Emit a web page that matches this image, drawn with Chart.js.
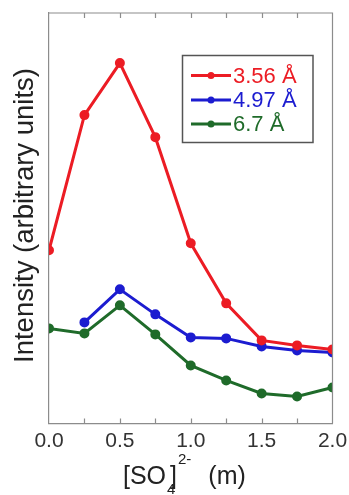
<!DOCTYPE html>
<html><head><meta charset="utf-8">
<script src="https://cdn.jsdelivr.net/npm/chart.js@4.4.1/dist/chart.umd.min.js"></script>
<style>html,body{margin:0;padding:0;background:#fff;overflow:hidden}#wrap{width:349px;height:495px;position:relative}</style>
</head><body><div id="wrap"><canvas id="c" width="349" height="495"></canvas></div>
<script>
const concentrations = [0, 0.25, 0.5, 0.75, 1, 1.25, 1.5, 1.75, 2];
const series356 = [173, 308, 360, 286, 180, 120, 83, 78, 74];
const series497 = [null, 101, 134, 109, 86, 85, 77, 73, 71];
const series67 = [95, 90, 118, 89, 58, 43, 30, 27, 36];
const seriesLabels = ['3.56 Å', '4.97 Å', '6.7 Å'];
const xTickValues = [0, 0.5, 1, 1.5, 2];
const xTickLabels = ['0.0', '0.5', '1.0', '1.5', '2.0'];
const minorTickValues = [0.25, 0.5, 0.75, 1, 1.25, 1.5, 1.75];
const yTitle = 'Intensity (arbitrary units)';

const colors = ['#ec1c24', '#1c1cd0', '#1f6b2a'];
const AXIS = '#8c8c8c';
const FONT = "'Liberation Sans', Arial, sans-serif";

function pts(arr) { return concentrations.map((x, i) => ({x: x, y: arr[i]})); }
function ds(label, arr, color) {
  return {label, data: pts(arr), borderColor: color, backgroundColor: color,
    pointBackgroundColor: color, pointBorderColor: color, borderWidth: 3,
    pointRadius: 3.5, pointHoverRadius: 3.5, tension: 0, spanGaps: false};
}

const frame = {
  id: 'frame',
  afterDraw(chart) {
    const {ctx, chartArea: a, scales: {x}} = chart;
    ctx.save();
    ctx.strokeStyle = AXIS; ctx.lineWidth = 1.2;
    ctx.beginPath();
    ctx.moveTo(a.left, a.top); ctx.lineTo(a.right, a.top); ctx.lineTo(a.right, a.bottom);
    ctx.stroke();
    minorTickValues.forEach(v => {
      const px = Math.round(x.getPixelForValue(v)) + 0.5;
      ctx.beginPath();
      ctx.moveTo(px, a.top); ctx.lineTo(px, a.top + 5);
      ctx.moveTo(px, a.bottom); ctx.lineTo(px, a.bottom - 5);
      ctx.stroke();
    });
    // legend
    const L = 182.5, T = 55.5, R = 313, B = 142.5;
    ctx.fillStyle = '#fff';
    ctx.fillRect(L, T, R - L, B - T);
    ctx.strokeStyle = '#555'; ctx.lineWidth = 1.5;
    ctx.strokeRect(L, T, R - L, B - T);
    const rows = [75.5, 100, 124];
    ctx.font = '22px ' + FONT; ctx.textBaseline = 'middle'; ctx.textAlign = 'left';
    chart.data.datasets.forEach((d, i) => {
      const y = rows[i];
      ctx.strokeStyle = d.borderColor; ctx.lineWidth = 3;
      ctx.beginPath(); ctx.moveTo(191, y); ctx.lineTo(231, y); ctx.stroke();
      ctx.fillStyle = d.borderColor;
      ctx.beginPath(); ctx.arc(211, y, 3.5, 0, Math.PI * 2); ctx.fill();
      ctx.fillText(d.label, 233, y + 1);
    });
    // y title
    ctx.fillStyle = '#222';
    ctx.font = '27.5px ' + FONT;
    ctx.save();
    ctx.translate(33, 215.5);
    ctx.rotate(-Math.PI / 2);
    ctx.textAlign = 'center'; ctx.textBaseline = 'alphabetic';
    ctx.fillText(yTitle, 0, 0);
    ctx.restore();
    // x title: [SO4]2- (m)
    ctx.textAlign = 'left'; ctx.textBaseline = 'alphabetic';
    const big = '25px ' + FONT, small = '15px ' + FONT;
    const x0 = 123, base = 483.5;
    ctx.font = big; ctx.fillText('[SO', x0, base);
    const x1 = x0 + ctx.measureText('[SO').width;
    ctx.font = small; ctx.fillText('4', x1 + 1, base + 10.5);
    ctx.font = big; ctx.fillText(']', x1 + 4, base);
    const x2 = x1 + 4 + ctx.measureText(']').width;
    ctx.font = small; ctx.fillText('2-', x2 + 1, base - 20);
    const x3 = x2 + 1 + ctx.measureText('2-').width;
    ctx.font = big; ctx.fillText('(m)', x3 + 17, base);
    ctx.restore();
  }
};

new Chart(document.getElementById('c'), {
  type: 'line',
  data: {datasets: [ds(seriesLabels[0], series356, colors[0]), ds(seriesLabels[1], series497, colors[1]), ds(seriesLabels[2], series67, colors[2])]},
  options: {
    responsive: false, animation: false, devicePixelRatio: 1,
    layout: {padding: {top: 13, right: 16.5, left: 0, bottom: 0}},
    plugins: {legend: {display: false}, tooltip: {enabled: false}},
    scales: {
      x: {
        type: 'linear', min: 0, max: 2,
        afterBuildTicks: s => { s.ticks = xTickValues.map(v => ({value: v})); },
        afterFit: s => { s.height = 71.5; s.paddingLeft = 0; s.paddingRight = 0; },
        grid: {display: false, drawTicks: false},
        border: {display: true, color: AXIS, width: 1.2},
        ticks: {callback: (v, i) => xTickLabels[i], font: {size: 21, family: FONT}, color: '#333', padding: 5, maxRotation: 0, autoSkip: false}
      },
      y: {
        min: 0, max: 410,
        afterFit: s => { s.width = 49; },
        grid: {display: false, drawTicks: false},
        border: {display: true, color: AXIS, width: 1.2},
        ticks: {display: false}
      }
    }
  },
  plugins: [frame]
});
</script>
</body></html>
